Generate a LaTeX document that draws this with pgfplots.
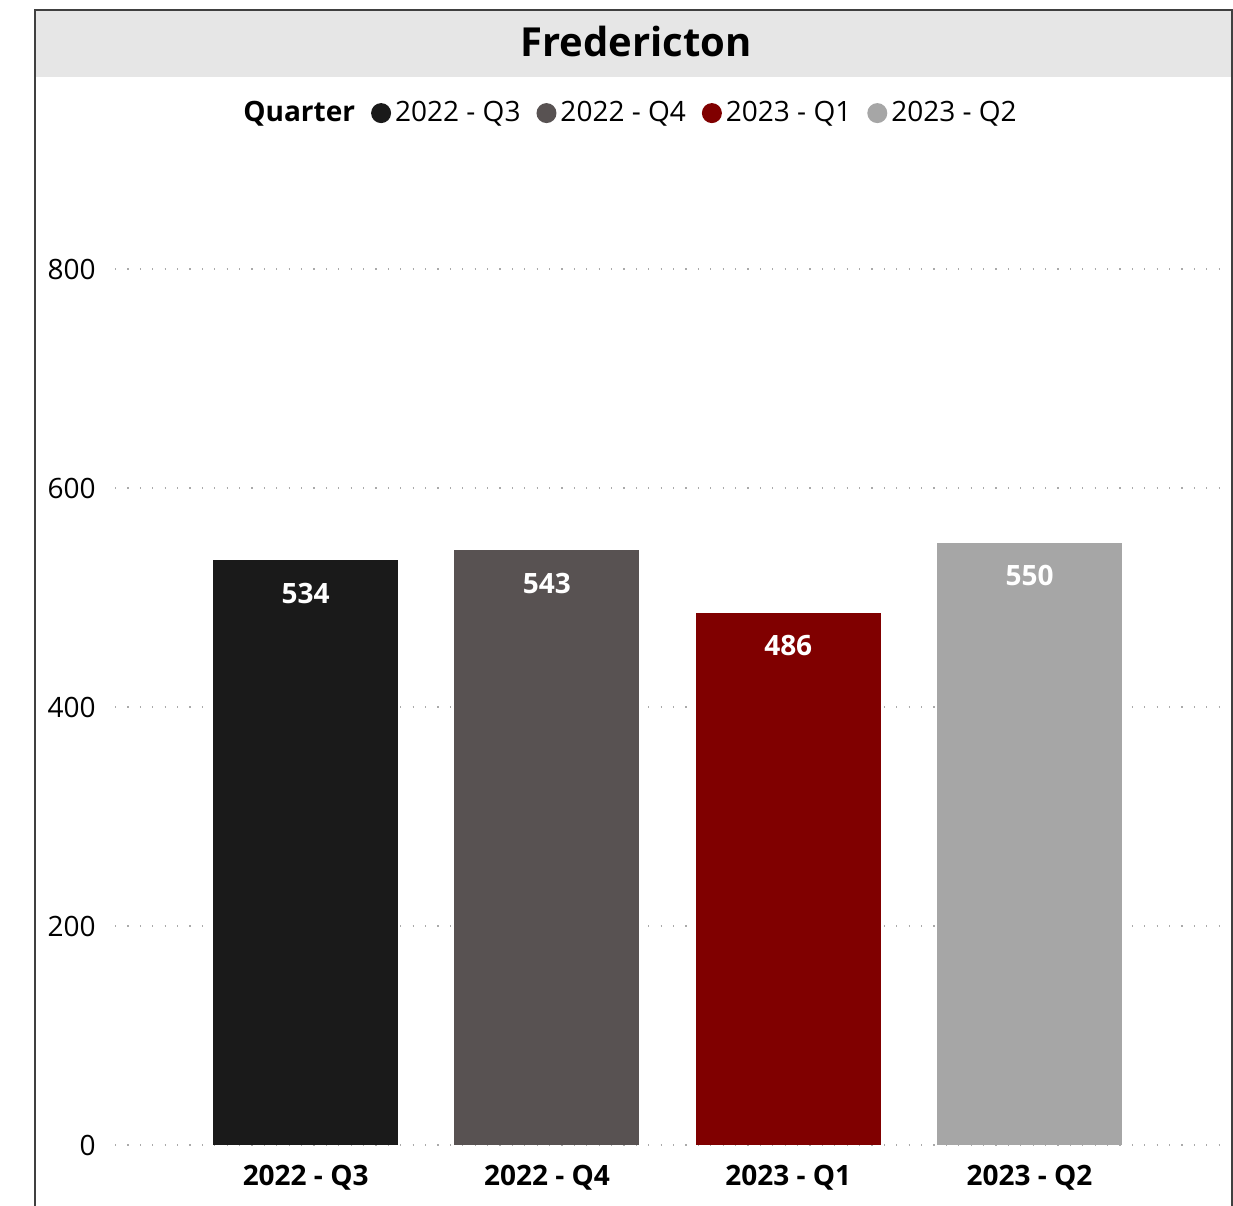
\documentclass[border=0pt]{standalone}
\usepackage{fontspec}
\setmainfont{Open Sans}
\usepackage{pgfplots}
\pgfplotsset{compat=1.18}

\definecolor{qthree}{HTML}{1A1A1A}
\definecolor{qfour}{HTML}{585252}
\definecolor{qone}{HTML}{800000}
\definecolor{qtwo}{HTML}{A6A6A6}
\definecolor{band}{HTML}{E6E6E6}
\definecolor{gridc}{HTML}{AAAAAA}
\definecolor{framec}{HTML}{404040}

\newcommand{\fs}{\fontsize{14}{16}\selectfont}

\begin{document}
\begin{tikzpicture}
% page is 1233x1206 px, 1 px = 0.5pt
\path[use as bounding box] (0,0) rectangle (616.5pt,603pt);
\fill[band] (18pt,564.5pt) rectangle (616pt,597.5pt);
\draw[framec, line width=0.9pt] (17.5pt,-2pt) -- (17.5pt,598pt) -- (616pt,598pt) -- (616pt,-2pt);
\node[font=\fontsize{20}{24}\selectfont\bfseries] at (318pt,582pt) {Fredericton};

\begin{axis}[
    at={(57.5pt,30.5pt)}, anchor=south west,
    scale only axis,
    width=555pt, height=438pt,
    ybar, bar width=92.5pt, bar shift=0pt,
    xmin=-0.79, xmax=3.81,
    ymin=0, ymax=800,
    xtick={0,1,2,3},
    xticklabels={2022 - Q3, 2022 - Q4, 2023 - Q1, 2023 - Q2},
    ytick={0,200,400,600,800},
    axis line style={draw=none},
    tick style={draw=none},
    major tick length=0pt,
    ymajorgrids,
    grid style={gridc, line width=0.7pt, dash pattern=on 0.6pt off 5.6pt},
    /pgf/number format/assume math mode=true,
    yticklabel style={font=\fs, anchor=east, inner sep=0pt, xshift=-9.5pt},
    xticklabel style={font=\fs\bfseries, anchor=north, inner sep=0pt, yshift=-10pt},
    nodes near coords,
    nodes near coords style={font=\fs\bfseries, text=white, anchor=center, yshift=-16.5pt},
    legend style={draw=none, fill=none, at={(0.464,1.178)}, anchor=center,
        legend columns=-1, font=\fs,
        /tikz/every even column/.append style={column sep=6pt}},
    ]
\addlegendimage{empty legend}
\addlegendentry{\textbf{Quarter}}
\addplot[fill=qthree, draw=none,
    legend image code/.code={\fill[qthree] (0pt,0pt) circle (5pt);}]
    coordinates {(0,534)};
\addlegendentry{2022 - Q3}
\addplot[fill=qfour, draw=none,
    legend image code/.code={\fill[qfour] (0pt,0pt) circle (5pt);}]
    coordinates {(1,543)};
\addlegendentry{2022 - Q4}
\addplot[fill=qone, draw=none,
    legend image code/.code={\fill[qone] (0pt,0pt) circle (5pt);}]
    coordinates {(2,486)};
\addlegendentry{2023 - Q1}
\addplot[fill=qtwo, draw=none,
    legend image code/.code={\fill[qtwo] (0pt,0pt) circle (5pt);}]
    coordinates {(3,550)};
\addlegendentry{2023 - Q2}
\end{axis}
\end{tikzpicture}
\end{document}
